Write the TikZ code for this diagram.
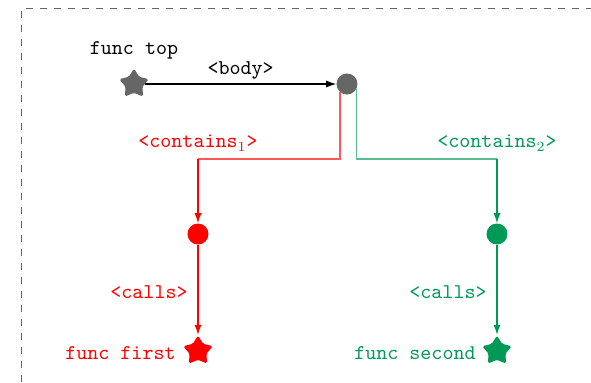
\documentclass[tikz,border=0pt]{standalone}
\usetikzlibrary{shapes.geometric,arrows.meta}
\definecolor{dgrey}{RGB}{102,102,102}
\definecolor{fgreen}{RGB}{0,153,85}
\definecolor{fred}{RGB}{255,0,0}
\begin{document}
\begin{tikzpicture}[x=0.5pt,y=-0.5pt,
  fstar/.style={star,star points=5,star point ratio=1.75,inner sep=0pt,minimum size=15.5pt,rounded corners=0.8pt,draw=none},
  fdot/.style={circle,inner sep=0pt,minimum size=10.5pt,draw=none},
  lbl/.style={font=\ttfamily\fontsize{10.5}{13}\selectfont,inner sep=1pt},
  conn/.style={line width=0.55pt,-{Latex[length=5pt,width=3.6pt]}},
  light/.style={line width=0.6pt},
  frame/.style={dgrey,line width=0.5pt,dash pattern=on 3.5pt off 3.5pt}]
\useasboundingbox (0,0) rectangle (591,382);
\draw[frame] (22,382) -- (22,8) -- (591,8);
% nodes
\node[fstar,fill=dgrey] (top) at (134,84) {};
\node[lbl] (toplbl) at (134,50) {func top};
\node[fdot,fill=dgrey] (g) at (347,84) {};
\node[fdot,fill=fred] (r) at (198,234) {};
\node[fdot,fill=fgreen] (gr) at (497,234) {};
\node[fstar,fill=fred] (rs) at (198,351) {};
\node[fstar,fill=fgreen] (gs) at (497,351) {};
\node[lbl,text=fred,anchor=east] (rslbl) at (178,353) {func first};
\node[lbl,text=fgreen,anchor=east] (gslbl) at (478,353) {func second};
\coordinate (c1) at (198,159);
\coordinate (c2) at (497,159);
% connectors
\draw[conn] (top) -- node[lbl,above=1pt] (body) {<body>} (g);
\draw[light,fred!65] (g.-130) |- (c1);
\draw[conn,fred] (c1) -- (r);
\draw[light,fgreen!65] (g.-30) |- (c2);
\draw[conn,fgreen] (c2) -- (gr);
\draw[conn,fred] (r) -- (rs);
\draw[conn,fgreen] (gr) -- (gs);
% labels
\node[lbl,text=fred] (cont1) at (198,143) {<contains$_1$>};
\node[lbl,text=fgreen] (cont2) at (497,143) {<contains$_2$>};
\node[lbl,text=fred,anchor=east] (calls1) at (190,292) {<calls>};
\node[lbl,text=fgreen,anchor=east] (calls2) at (489,292) {<calls>};
\end{tikzpicture}
\end{document}
